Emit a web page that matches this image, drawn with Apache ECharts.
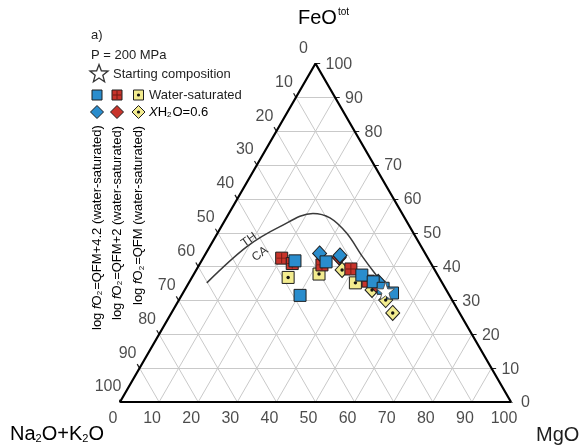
<!DOCTYPE html>
<html>
<head>
<meta charset="utf-8">
<script src="https://cdn.jsdelivr.net/npm/echarts@6/dist/echarts.min.js"></script>
<style>
html, body { margin: 0; padding: 0; background: #ffffff; }
#chart { width: 583px; height: 448px; }
</style>
</head>
<body>
<div id="chart"></div>
<script>
// AFM ternary diagram: compositions are [Na2O+K2O, FeOtot, MgO] in wt%
const tickValues = [0, 10, 20, 30, 40, 50, 60, 70, 80, 90, 100];

const startingComposition = [[15.7, 32.8, 51.5]];

// log fO2 = QFM+4.2
const blueSquares = [[34.4, 41.7, 23.9], [26.6, 41.4, 32.0], [38.2, 31.5, 30.3], [19.4, 37.5, 43.1],
                     [17.5, 35.5, 47.0], [15.9, 33.6, 50.5], [14.2, 32.2, 53.6]];
const blueDiamonds = [[27.0, 43.9, 29.1], [22.1, 43.3, 34.6], [16.2, 35.5, 48.3]];

// log fO2 = QFM+2
const redSquares = [[37.4, 42.5, 20.1], [35.5, 40.9, 23.6], [28.1, 40.5, 31.4], [21.3, 39.3, 39.4],
                    [18.7, 35.7, 45.6]];
const redDiamonds = [[22.6, 42.7, 34.7], [17.2, 34.6, 48.2]];

// log fO2 = QFM
const yellowSquares = [[38.6, 36.8, 24.6], [30.2, 37.8, 32.0], [22.2, 35.2, 42.6]];
const yellowDiamonds = [[23.7, 39.0, 37.3], [19.0, 33.1, 47.9], [17.0, 30.1, 52.9], [17.1, 26.3, 56.6]];

// tholeiitic / calc-alkaline dividing line
const thCaBoundary = [[60.2, 35.2, 4.6], [44.6, 45.9, 9.5], [33.2, 51.8, 15.0], [22.8, 55.7, 21.5],
                      [19.1, 54.4, 26.5], [17.1, 49.9, 33.0], [16.5, 42.8, 40.7], [15.5, 36.0, 48.5],
                      [15.1, 33.1, 51.8]];

const FONT = '"Liberation Sans", Arial, Helvetica, sans-serif';
const INK = '#1e1e1e';
const BLUE = '#2a8dcd';
const RED = '#c8342b';
const RED_DARK = '#6e1a13';
const YELLOW = '#f3ec8f';

// ternary -> cartesian: x = MgO + FeO/2, y = FeO (grid box gives the equilateral shape)
function toXY(p) {
  const s = p[0] + p[1] + p[2];
  const f = p[1] / s * 100;
  const m = p[2] / s * 100;
  return [m + f / 2, f];
}

// grid lines inside the triangle
const gridSegs = [];
for (let v = 10; v < 100; v += 10) {
  gridSegs.push({ coords: [toXY([100 - v, v, 0]), toXY([0, v, 100 - v])] });   // constant FeO
  gridSegs.push({ coords: [toXY([100 - v, 0, v]), toXY([0, 100 - v, v])] });   // constant MgO
  gridSegs.push({ coords: [toXY([v, 0, 100 - v]), toXY([v, 100 - v, 0])] });   // constant Na2O+K2O
}

// small outward ticks on each edge
const tickSegs = [];
tickValues.forEach(v => {
  tickSegs.push({ coords: [toXY([v, 100 - v, 0]), toXY([v, 101.2 - v, -1.2])] });
  tickSegs.push({ coords: [toXY([0, v, 100 - v]), toXY([-1.2, v, 101.2 - v])] });
  tickSegs.push({ coords: [toXY([100 - v, 0, v]), toXY([101.2 - v, -1.2, v])] });
});

const edge = [toXY([100, 0, 0]), toXY([0, 0, 100]), toXY([0, 100, 0]), toXY([100, 0, 0])];

function labelSeries(points, opts) {
  return {
    type: 'scatter', symbolSize: 0, silent: true, clip: false, z: 6,
    data: points,
    label: Object.assign({
      show: true, formatter: p => p.value[2],
      fontSize: 16, color: INK, fontFamily: FONT
    }, opts)
  };
}

function markers(data, symbol, size, color, z, stroke) {
  return {
    type: 'scatter', silent: true, clip: false, z: z,
    symbol: symbol, symbolSize: size,
    data: data.map(toXY),
    itemStyle: { color: color, borderColor: stroke || INK, borderWidth: 1, opacity: 1 }
  };
}

function overlay(data, symbol, size, color, z) {
  return {
    type: 'scatter', silent: true, clip: false, z: z,
    symbol: symbol, symbolSize: size,
    data: data.map(toXY),
    itemStyle: { color: color, borderWidth: 0, opacity: 1 }
  };
}

const PLUS = 'path://M0,4.55H10V5.45H0ZM4.55,0H5.45V10H4.55Z';
const STAR = 'path://M50,0L61.8,35.1L98.1,34.5L69.1,56.7L79.4,91.5L50,70.9L20.6,91.5L30.9,56.7L1.9,34.5L38.2,35.1Z';

const series = [
  { type: 'lines', coordinateSystem: 'cartesian2d', silent: true, z: 1, data: gridSegs,
    lineStyle: { color: '#c9c9c9', width: 1, opacity: 1 } },
  { type: 'lines', coordinateSystem: 'cartesian2d', silent: true, z: 3, data: tickSegs,
    lineStyle: { color: INK, width: 1.2, opacity: 1 } },
  { type: 'line', silent: true, clip: false, z: 3, data: edge, symbol: 'none',
    lineStyle: { color: '#000', width: 2.2 } },
  { type: 'line', silent: true, clip: false, z: 2, data: thCaBoundary.map(toXY), symbol: 'none',
    smooth: 0.35, lineStyle: { color: '#3a3a3a', width: 1.5 } },

  markers(yellowSquares, 'rect', 12, YELLOW, 4),
  overlay(yellowSquares, 'circle', 3.4, '#111', 4),
  markers(yellowDiamonds, 'diamond', [14, 15], YELLOW, 4),
  overlay(yellowDiamonds, 'circle', 3.4, '#111', 4),
  markers(redDiamonds, 'diamond', [14, 15], RED, 4),
  markers(redSquares, 'rect', 12, RED, 4),
  overlay(redSquares, PLUS, 10, RED_DARK, 4),
  markers(blueDiamonds, 'diamond', [14, 15], BLUE, 4),
  markers(blueSquares, 'rect', 12, BLUE, 4),
  markers(startingComposition, STAR, 18, '#ffffff', 5, '#555'),

  labelSeries(tickValues.map(v => toXY([v, 100 - v, 0]).concat(String(v))),
              { position: 'inside', offset: [-12, -15] }),
  labelSeries(tickValues.map(v => toXY([0, v, 100 - v]).concat(String(v))),
              { position: 'right', distance: 10, offset: [0, 1] }),
  labelSeries(tickValues.map(v => toXY([100 - v, 0, v]).concat(String(v))),
              { position: 'inside', offset: [-7, 17] })
];

// legend and annotation graphics
function starPoints(cx, cy, ro, ri) {
  const pts = [];
  for (let i = 0; i < 10; i++) {
    const r = i % 2 === 0 ? ro : ri;
    const a = -Math.PI / 2 + i * Math.PI / 5;
    pts.push([cx + r * Math.cos(a), cy + r * Math.sin(a)]);
  }
  return pts;
}
function diamond(cx, cy, w, h) {
  return [[cx, cy - h / 2], [cx + w / 2, cy], [cx, cy + h / 2], [cx - w / 2, cy]];
}
const txt = (x, y, text, extra) => ({
  type: 'text', x: x, y: y, silent: true, z: 10,
  style: Object.assign({ text: text, fontSize: 13, fontFamily: FONT, fill: INK,
                         align: 'left', verticalAlign: 'middle' }, extra || {})
});
const richBase = {
  a: { fontSize: 13, fontFamily: FONT, color: INK, lineHeight: 16 },
  i: { fontSize: 13, fontFamily: FONT, color: INK, fontStyle: 'italic', lineHeight: 16 },
  s: { fontSize: 8, fontFamily: FONT, color: INK, lineHeight: 16, padding: [6, 1, 0, 0] }
};
const colX = [97, 117, 138.5];
const rowSq = 95, rowDi = 112;

const graphics = [
  txt(91, 35, 'a)'),
  txt(91, 55, 'P = 200 MPa'),
  { type: 'polygon', silent: true, z: 10, shape: { points: starPoints(99, 74, 9.5, 4) },
    style: { fill: '#fff', stroke: '#333', lineWidth: 1.3 } },
  txt(113, 74, 'Starting composition'),
  txt(149, rowSq, 'Water-saturated'),
  { type: 'text', x: 149, y: rowDi, silent: true, z: 10,
    style: { text: '{i|X}{a|H}{s|2}{a|O=0.6}', rich: richBase, align: 'left', verticalAlign: 'middle' } },

  { type: 'rect', silent: true, z: 10, shape: { x: colX[0] - 5, y: rowSq - 5, width: 10, height: 10 },
    style: { fill: BLUE, stroke: INK, lineWidth: 1 } },
  { type: 'rect', silent: true, z: 10, shape: { x: colX[1] - 5, y: rowSq - 5, width: 10, height: 10 },
    style: { fill: RED, stroke: INK, lineWidth: 1 } },
  { type: 'line', silent: true, z: 11, shape: { x1: colX[1] - 4, y1: rowSq, x2: colX[1] + 4, y2: rowSq },
    style: { stroke: RED_DARK, lineWidth: 1 } },
  { type: 'line', silent: true, z: 11, shape: { x1: colX[1], y1: rowSq - 4, x2: colX[1], y2: rowSq + 4 },
    style: { stroke: RED_DARK, lineWidth: 1 } },
  { type: 'rect', silent: true, z: 10, shape: { x: colX[2] - 5, y: rowSq - 5, width: 10, height: 10 },
    style: { fill: YELLOW, stroke: INK, lineWidth: 1 } },
  { type: 'circle', silent: true, z: 11, shape: { cx: colX[2], cy: rowSq, r: 1.6 }, style: { fill: '#111' } },

  { type: 'polygon', silent: true, z: 10, shape: { points: diamond(colX[0], rowDi, 13, 13) },
    style: { fill: BLUE, stroke: INK, lineWidth: 1 } },
  { type: 'polygon', silent: true, z: 10, shape: { points: diamond(colX[1], rowDi, 13, 13) },
    style: { fill: RED, stroke: INK, lineWidth: 1 } },
  { type: 'polygon', silent: true, z: 10, shape: { points: diamond(colX[2], rowDi, 13, 13) },
    style: { fill: YELLOW, stroke: INK, lineWidth: 1 } },
  { type: 'circle', silent: true, z: 11, shape: { cx: colX[2], cy: rowDi, r: 1.6 }, style: { fill: '#111' } },

  // oxygen-fugacity captions, reading upwards
  { type: 'text', x: colX[0], y: 330, rotation: Math.PI / 2, silent: true, z: 10,
    style: { text: '{a|log }{i|f}{a|O}{s|2}{a|=QFM+4.2 (water-saturated)}', rich: richBase,
             align: 'left', verticalAlign: 'middle' } },
  { type: 'text', x: colX[1], y: 320, rotation: Math.PI / 2, silent: true, z: 10,
    style: { text: '{a|log }{i|f}{a|O}{s|2}{a|=QFM+2 (water-saturated)}', rich: richBase,
             align: 'left', verticalAlign: 'middle' } },
  { type: 'text', x: colX[2], y: 305, rotation: Math.PI / 2, silent: true, z: 10,
    style: { text: '{a|log }{i|f}{a|O}{s|2}{a|=QFM (water-saturated)}', rich: richBase,
             align: 'left', verticalAlign: 'middle' } },

  // TH / CA field labels either side of the dividing line
  { type: 'text', x: 249, y: 240, rotation: 0.62, silent: true, z: 10,
    style: { text: 'TH', fontSize: 12, fontFamily: FONT, fill: '#333', align: 'center', verticalAlign: 'middle' } },
  { type: 'text', x: 260, y: 254, rotation: 0.62, silent: true, z: 10,
    style: { text: 'CA', fontSize: 12, fontFamily: FONT, fill: '#333', align: 'center', verticalAlign: 'middle' } },

  // apex names
  { type: 'text', x: 298, y: 18, silent: true, z: 10,
    style: { text: '{b|FeO}{t|tot}', align: 'left', verticalAlign: 'middle',
             rich: { b: { fontSize: 20, fontFamily: FONT, color: INK, lineHeight: 24 },
                     t: { fontSize: 10, fontFamily: FONT, color: INK, lineHeight: 24, padding: [0, 0, 12, 1] } } } },
  { type: 'text', x: 10, y: 434, silent: true, z: 10,
    style: { text: '{b|Na}{s|2}{b|O+K}{s|2}{b|O}', align: 'left', verticalAlign: 'middle',
             rich: { b: { fontSize: 20, fontFamily: FONT, color: INK, lineHeight: 24 },
                     s: { fontSize: 11, fontFamily: FONT, color: INK, lineHeight: 24, padding: [10, 0, 0, 0] } } } },
  { type: 'text', x: 536, y: 435, silent: true, z: 10,
    style: { text: 'MgO', fontSize: 20, fontFamily: FONT, fill: INK, align: 'left', verticalAlign: 'middle' } }
];

const chart = echarts.init(document.getElementById('chart'), null, { renderer: 'canvas' });
chart.setOption({
  backgroundColor: '#ffffff',
  animation: false,
  grid: { left: 120, right: 72, top: 63.5, bottom: 46 },
  xAxis: { type: 'value', min: 0, max: 100, show: false },
  yAxis: { type: 'value', min: 0, max: 100, show: false },
  series: series,
  graphic: graphics
});
</script>
</body>
</html>
